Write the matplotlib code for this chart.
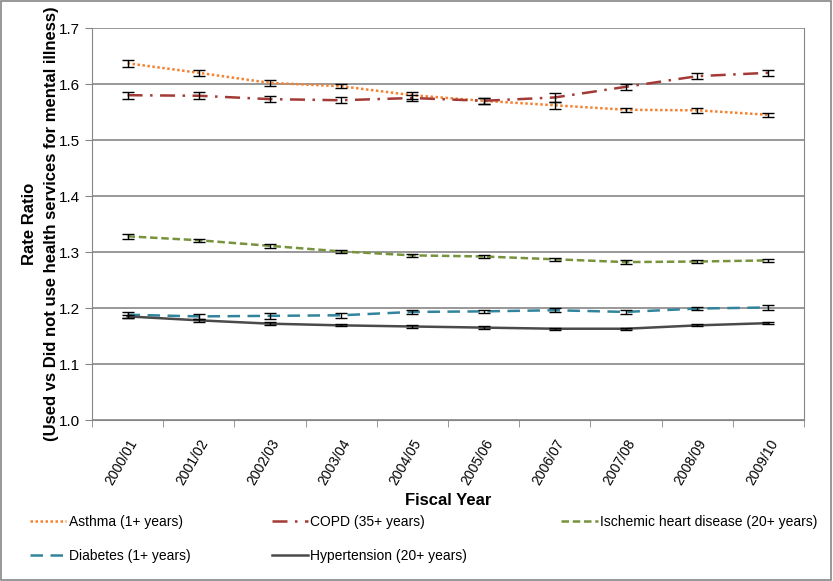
import numpy as np
import matplotlib.pyplot as plt
from matplotlib.patches import Rectangle

plt.rcParams['font.family'] = ['Liberation Sans', 'DejaVu Sans']

years = ['2000/01', '2001/02', '2002/03', '2003/04', '2004/05',
         '2005/06', '2006/07', '2007/08', '2008/09', '2009/10']

asthma = [1.637, 1.620, 1.602, 1.596, 1.580, 1.570, 1.562, 1.554, 1.553, 1.545]
asthma_err = [0.006, 0.005, 0.005, 0.004, 0.006, 0.005, 0.006, 0.004, 0.004, 0.004]

copd = [1.580, 1.579, 1.573, 1.571, 1.575, 1.570, 1.576, 1.595, 1.614, 1.620]
copd_err = [0.006, 0.006, 0.006, 0.005, 0.006, 0.005, 0.008, 0.005, 0.005, 0.005]

ihd = [1.328, 1.321, 1.311, 1.301, 1.294, 1.292, 1.287, 1.282, 1.283, 1.285]
ihd_err = [0.004, 0.003, 0.004, 0.003, 0.003, 0.003, 0.003, 0.003, 0.003, 0.003]

diabetes = [1.188, 1.185, 1.186, 1.187, 1.193, 1.194, 1.196, 1.193, 1.199, 1.201]
diabetes_err = [0.005, 0.004, 0.005, 0.004, 0.004, 0.003, 0.004, 0.004, 0.003, 0.004]

hypertension = [1.185, 1.178, 1.172, 1.169, 1.167, 1.165, 1.163, 1.163, 1.169, 1.173]
hypertension_err = [0.003, 0.003, 0.003, 0.002, 0.002, 0.002, 0.002, 0.002, 0.002, 0.002]

series = [
    ('Asthma (1+ years)', asthma, asthma_err, '#F58231', (0, (1, 1)), 1.8),
    ('COPD (35+ years)', copd, copd_err, '#A33A35', (0, (6, 3, 1, 3)), 1.8),
    ('Ischemic heart disease (20+ years)', ihd, ihd_err, '#77933C', (0, (3, 1.5)), 1.8),
    ('Diabetes (1+ years)', diabetes, diabetes_err, '#31849B', (0, (5, 3)), 1.8),
    ('Hypertension (20+ years)', hypertension, hypertension_err, '#4A4A4A', '-', 1.8),
]

fig = plt.figure(figsize=(8.33, 5.81), dpi=100)
ax = fig.add_axes([0.1104, 0.2771, 0.8548, 0.6747])

x = np.arange(len(years))
handles = {}
for name, vals, err, color, ls, lw in series:
    ax.errorbar(x, vals, yerr=err, fmt='none', ecolor='black',
                elinewidth=1, capsize=4, capthick=1, zorder=3)
    line, = ax.plot(x, vals, color=color, linestyle=ls, linewidth=lw,
                    label=name, zorder=2)
    handles[name] = line

ax.set_xlim(-0.5, len(years) - 0.5)
ax.set_ylim(1.0, 1.7)
ax.set_yticks(np.arange(1.0, 1.71, 0.1))
ax.set_yticklabels(['%.1f' % v for v in np.arange(1.0, 1.71, 0.1)], fontsize=11)
ax.yaxis.grid(True, color='#868686', linewidth=1.2)
ax.set_axisbelow(True)

ax.set_xticks(x)
ax.set_xticklabels(years, rotation=60, ha='right', rotation_mode='anchor', fontsize=10)
ax.set_xticks(np.arange(-0.5, len(years), 1), minor=True)
ax.tick_params(axis='x', which='major', length=0, pad=12)
ax.tick_params(axis='x', which='minor', length=5, color='#868686')
ax.tick_params(axis='y', length=5, color='#868686')

for side in ['left', 'bottom']:
    ax.spines[side].set_color('#868686')
ax.spines['top'].set_visible(False)
ax.spines['right'].set_color('#868686')

ax.set_xlabel('Fiscal Year', fontsize=12, fontweight='bold', labelpad=4)
ax.set_ylabel('Rate Ratio\n(Used vs Did not use health services for mental illness)',
              fontsize=12, fontweight='bold', labelpad=0, linespacing=1.6)

# legend entries placed like the original grid (3 columns, 2 rows)
legend_pos = {
    'Asthma (1+ years)': (0.036, 0.101),
    'COPD (35+ years)': (0.326, 0.101),
    'Ischemic heart disease (20+ years)': (0.674, 0.101),
    'Diabetes (1+ years)': (0.036, 0.043),
    'Hypertension (20+ years)': (0.326, 0.043),
}
for name, (lx, ly) in legend_pos.items():
    fig.legend([handles[name]], [name], loc='center left',
               bbox_to_anchor=(lx, ly), frameon=False, fontsize=10,
               handlelength=2.6, handletextpad=0.2, borderaxespad=0,
               borderpad=0)

fig.patches.append(Rectangle((0.001, 0.001), 0.997, 0.997, transform=fig.transFigure,
                             fill=False, edgecolor='#868686', linewidth=1.2))

fig.savefig('out.png', dpi=100)
plt.close(fig)
